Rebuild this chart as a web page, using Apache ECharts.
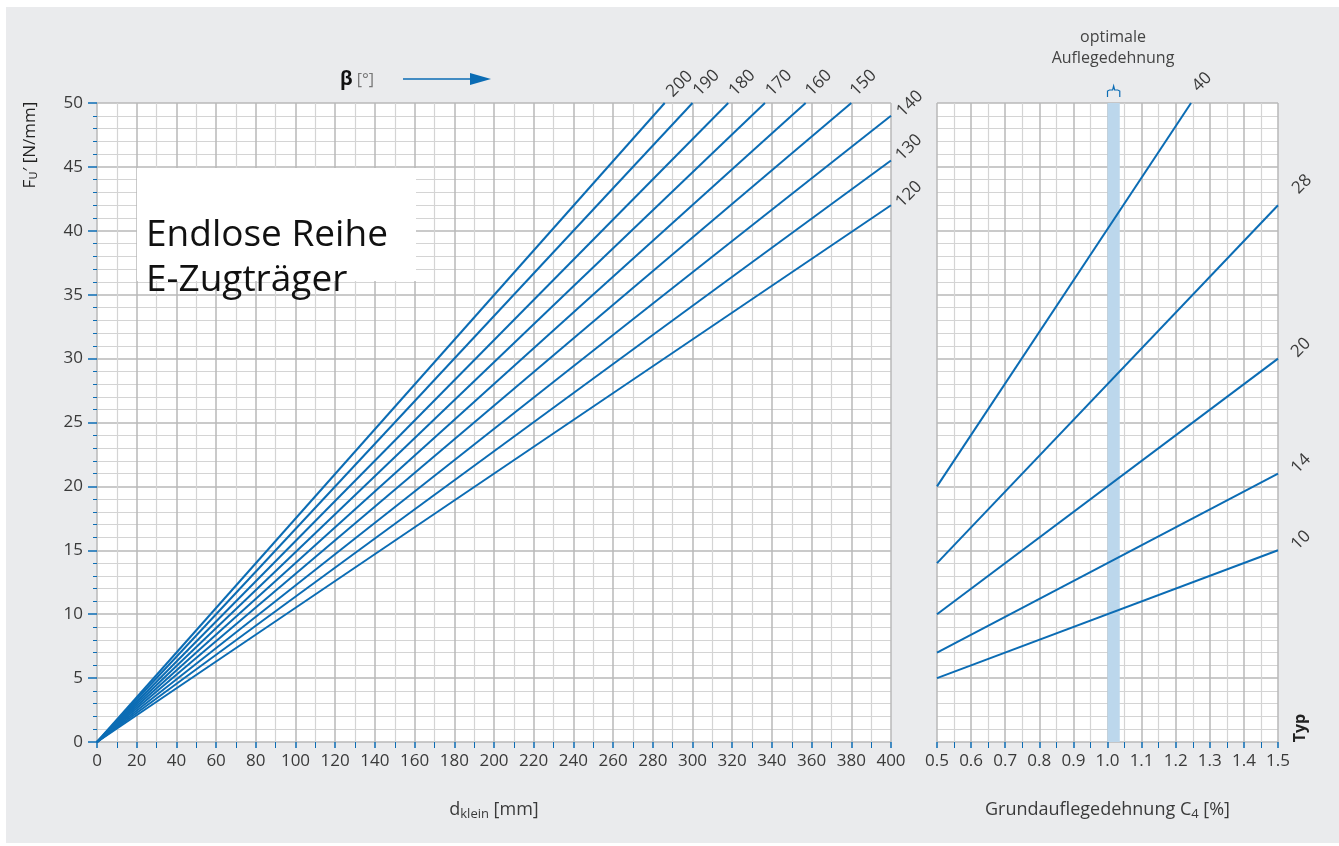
<!DOCTYPE html>
<html><head><meta charset="utf-8">
<script src="https://cdn.jsdelivr.net/npm/echarts@6/dist/echarts.min.js"></script>
<style>
html,body{margin:0;padding:0;background:#fff;}
#panel{position:absolute;left:6px;top:7px;width:1333px;height:836px;background:#eaebed;}
#main{position:absolute;left:0;top:0;width:1339px;height:846px;}
</style></head>
<body><div id="panel"></div><div id="main"></div>
<script>
// ---- data ----
const betaLabels = ['120','130','140','150','160','170','180','190','200'];
const betaEnds = [[400,42.0],[400,45.5],[400,49.0],[380,50],[357,50],[336.5,50],[318,50],[300,50],[286,50]];
const typLabels = ['10','14','20','28','40'];
const typStarts = [[0.5,5],[0.5,7],[0.5,10],[0.5,14],[0.5,20]];
const typEnds = [[1.5,15],[1.5,21],[1.5,30],[1.5,42],[1.245,50]];
const optimalBand = [1.0, 1.036];

// ---- styles ----
const BLUE = '#0b6cb4';
const TXT = '#3a3a3a';
const FONT = '"Open Sans", "Noto Sans", sans-serif';
const betaLabelOffsets = [[18,-11],[18,-13],[19,-12],[12,-20],[13,-20],[14,-20],[14,-20],[14,-20],[15,-19]];
const typLabelOffsets = [[23,-10],[23,-10],[23,-11],[24,-21],[11,-21]];

const chart = echarts.init(document.getElementById('main'), null, {renderer:'canvas'});

function xAxisCfg(idx, min, max, interval, fmt){
  return {
    type:'value', gridIndex:idx, min:min, max:max, interval:interval,
    axisLine:{show:false},
    axisTick:{show:true, length:6, lineStyle:{color:BLUE, width:1.5}},
    minorTick:{show:true, splitNumber:2, length:6, lineStyle:{color:BLUE, width:1}},
    splitLine:{show:true, lineStyle:{color:'#b8b8b8', width:1.5}},
    minorSplitLine:{show:true, lineStyle:{color:'#d4d4d4', width:1.2}},
    axisLabel:{fontSize:17, color:TXT, fontFamily:FONT, margin:11, formatter:fmt},
    nameLocation:'middle', nameGap:57
  };
}
function yAxisCfg(idx, showLab){
  return {
    type:'value', gridIndex:idx, min:0, max:50, interval:5,
    axisLine:{show:false},
    axisTick:{show:showLab, length:9, lineStyle:{color:BLUE, width:1.5}},
    minorTick:{show:showLab, splitNumber:5, length:4, lineStyle:{color:BLUE, width:1}},
    splitLine:{show:true, lineStyle:{color:'#b8b8b8', width:1.5}},
    minorSplitLine:{show:true, lineStyle:{color:'#d4d4d4', width:1.2}},
    axisLabel:{show:showLab, fontSize:17, color:TXT, fontFamily:FONT, margin:14}
  };
}
const nameRich = {n:{fontSize:18, color:TXT, fontFamily:FONT}, s:{fontSize:13, color:TXT, fontFamily:FONT, padding:[9,0,0,0]}};
const xa0 = xAxisCfg(0, 0, 400, 20, v => String(v));
xa0.name = '{n|d}{s|klein}{n| [mm]}';
xa0.nameTextStyle = {rich:nameRich};
const xa1 = xAxisCfg(1, 0.5, 1.5, 0.1, v => v.toFixed(1));
xa1.name = '{n|Grundauflegedehnung C}{s|4}{n| [%]}';
xa1.nameTextStyle = {rich:nameRich};

const series = [];
betaLabels.forEach((lab, i) => {
  series.push({type:'line', xAxisIndex:0, yAxisIndex:0, silent:true, symbol:'none',
    lineStyle:{color:BLUE, width:2}, data:[[0,0], betaEnds[i]], z:5});
});
typLabels.forEach((lab, i) => {
  series.push({type:'line', xAxisIndex:1, yAxisIndex:1, silent:true, symbol:'none',
    lineStyle:{color:BLUE, width:2}, data:[typStarts[i], typEnds[i]], z:5});
});
// optimal band
series.push({type:'line', xAxisIndex:1, yAxisIndex:1, silent:true, symbol:'none', data:[], z:1,
  markArea:{silent:true, itemStyle:{color:'#bcd7ec'}, data:[[{xAxis:optimalBand[0]},{xAxis:optimalBand[1]}]]}});

const option = {
  animation:false,
  backgroundColor:'transparent',
  grid:[
    {left:97, top:103, width:794, height:639, show:true, backgroundColor:'#fff', borderWidth:0},
    {left:937, top:103, width:341, height:639, show:true, backgroundColor:'#fff', borderWidth:0}
  ],
  xAxis:[xa0, xa1],
  yAxis:[yAxisCfg(0,true), yAxisCfg(1,false)],
  series:series
};
chart.setOption(option);

// ---- annotations placed through the axis scales ----
const g = [];
g.push({type:'rect', z:100, shape:{x:137, y:168, width:279, height:113}, style:{fill:'#ffffff', stroke:null}});
g.push({type:'text', z:101, x:146, y:217, style:{text:'Endlose Reihe', fontSize:37, fontFamily:FONT, fill:'#111', verticalAlign:'alphabetic', stroke:null, lineWidth:0}});
g.push({type:'text', z:101, x:146, y:262, style:{text:'E-Zugträger', fontSize:37, fontFamily:FONT, fill:'#111', verticalAlign:'alphabetic', stroke:null, lineWidth:0}});
g.push({type:'text', z:100, x:30, y:145, rotation:Math.PI/2,
  style:{text:'{n|F}{s|U}{n|\u2032 [N/mm]}', align:'center', verticalAlign:'middle',
    rich:{n:{fontSize:17, fill:'#222', fontFamily:FONT}, s:{fontSize:11, fill:'#222', fontFamily:FONT, padding:[8,0,0,0]}}}});
g.push({type:'text', z:100, x:1300, y:728, rotation:Math.PI/2,
  style:{text:'Typ', fontSize:16, fontWeight:'bold', fontFamily:FONT, fill:'#222', align:'center', verticalAlign:'middle'}});
g.push({type:'text', z:100, x:357, y:80,
  style:{text:'{b|β}{g| [°]}', align:'center', verticalAlign:'middle',
    rich:{b:{fontSize:19, fontWeight:'bold', fill:'#111', fontFamily:FONT}, g:{fontSize:16, fill:'#777', fontFamily:FONT}}}});
g.push({type:'line', z:100, shape:{x1:403, y1:79, x2:475, y2:79}, style:{stroke:BLUE, lineWidth:1.5}});
g.push({type:'polygon', z:100, shape:{points:[[470,73],[491,79],[470,85]]}, style:{fill:BLUE}});
g.push({type:'text', z:100, x:1113, y:37, style:{text:'optimale', fontSize:16, fontFamily:FONT, fill:'#444', align:'center', verticalAlign:'middle'}});
g.push({type:'text', z:100, x:1113, y:58, style:{text:'Auflegedehnung', fontSize:16, fontFamily:FONT, fill:'#444', align:'center', verticalAlign:'middle'}});

betaLabels.forEach((lab, i) => {
  const p = chart.convertToPixel({xAxisIndex:0, yAxisIndex:0}, betaEnds[i]);
  g.push({type:'text', z:100, x:p[0]+betaLabelOffsets[i][0], y:p[1]+betaLabelOffsets[i][1], rotation:Math.PI/4,
    style:{text:lab, fontSize:17, fontFamily:FONT, fill:TXT, align:'center', verticalAlign:'middle'}});
});
typLabels.forEach((lab, i) => {
  const p = chart.convertToPixel({xAxisIndex:1, yAxisIndex:1}, typEnds[i]);
  g.push({type:'text', z:100, x:p[0]+typLabelOffsets[i][0], y:p[1]+typLabelOffsets[i][1], rotation:Math.PI/4,
    style:{text:lab, fontSize:17, fontFamily:FONT, fill:TXT, align:'center', verticalAlign:'middle'}});
});
const pA = chart.convertToPixel({xAxisIndex:1, yAxisIndex:1}, [optimalBand[0], 50]);
const pB = chart.convertToPixel({xAxisIndex:1, yAxisIndex:1}, [optimalBand[1], 50]);
const mx = (pA[0]+pB[0])/2, yb = pA[1]-6, yt = pA[1]-15;
g.push({type:'polyline', z:100, silent:true,
  shape:{points:[[pA[0],yb],[pA[0],yt+3],[pA[0]+2,yt+2],[mx-1,yt+2],[mx,yt-2],[mx+1,yt+2],[pB[0]-2,yt+2],[pB[0],yt+3],[pB[0],yb]]},
  style:{stroke:BLUE, lineWidth:1.2, fill:null}});
chart.setOption({graphic:{elements:g}});
</script></body></html>
